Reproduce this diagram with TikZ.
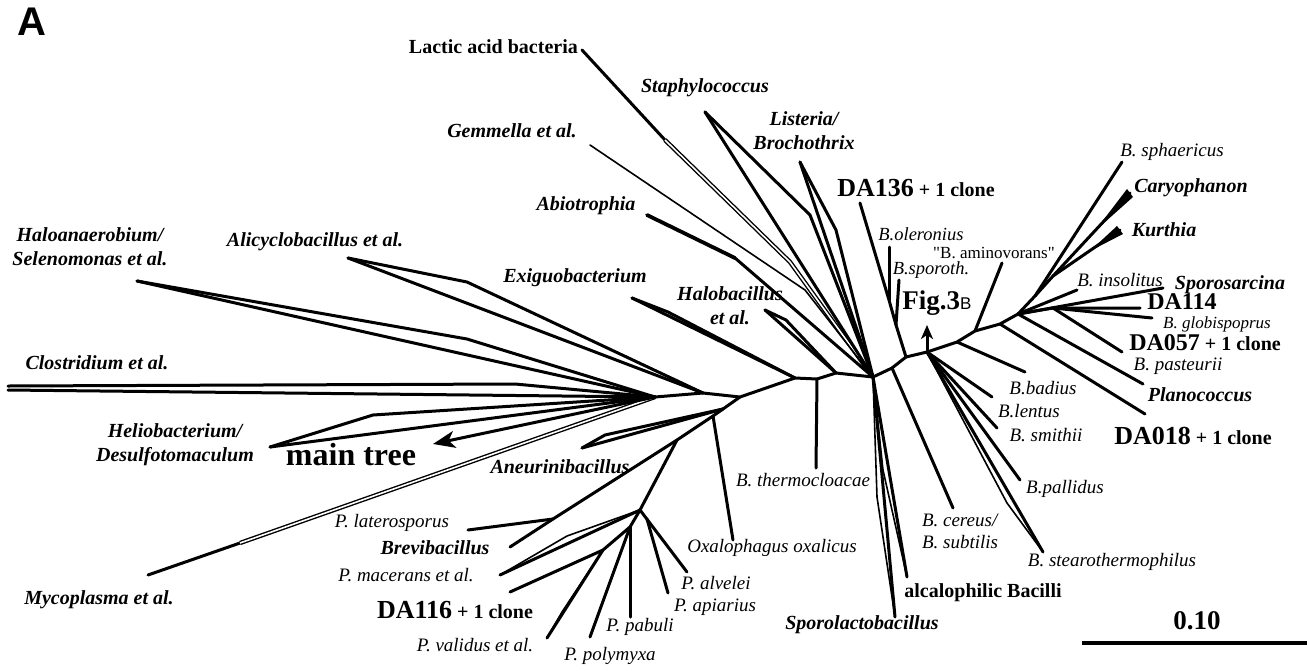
\documentclass[tikz,border=0pt]{standalone}
\usepackage{fontspec}
\setmainfont{Liberation Serif}
\newfontfamily\panelfont{Liberation Sans}
\usetikzlibrary{arrows.meta}

\tikzset{
  branch/.style={line width=3pt, line cap=round, line join=round},
  fine/.style={line width=1.6pt, line cap=round, line join=round},
  twin/.style={double, double distance=1.6pt, line width=1.4pt},
  group/.style={inner sep=0pt, align=center, font=\fontsize{20}{24}\selectfont\bfseries\itshape},
  species/.style={inner sep=0pt, font=\fontsize{19}{22}\selectfont\itshape},
  minor/.style={inner sep=0pt, font=\fontsize{17}{19}\selectfont\itshape},
  isolate/.style={inner sep=0pt, font=\fontsize{20}{24}\selectfont\bfseries},
}
\newcommand{\isoname}[2][26]{{\fontsize{#1}{#1}\selectfont #2}}

\begin{document}
\begin{tikzpicture}[x=1pt, y=-1pt]
  \useasboundingbox (0,0) rectangle (1307,670);

  % Backbone
  \coordinate (HL) at (655,397);
  \coordinate (A1) at (703,393);
  \coordinate (J1) at (740,397);
  \coordinate (J2) at (795,378);
  \coordinate (T)  at (817,379);
  \coordinate (J3) at (836,373);
  \coordinate (J4) at (873,377);
  \coordinate (J5) at (892,368);
  \coordinate (D0) at (906,357);
  \coordinate (F)  at (927,352);
  \coordinate (K)  at (957,342);
  \coordinate (AM) at (975,331);
  \coordinate (P1) at (1000,324);
  \coordinate (P2) at (1018,314);
  \draw[branch] (HL) -- (A1) -- (J1) -- (J2) -- (T) -- (J3) -- (J4) -- (J5)
    -- (D0) -- (F) -- (K) -- (AM) -- (P1) -- (P2);

  % Left fan
  \coordinate (t-hal) at (137,281);  \coordinate (b-hal) at (467,339);
  \coordinate (t-clo) at (8,386);    \coordinate (b-clo) at (515,384);
  \coordinate (t-clo2) at (8,390);
  \coordinate (t-hel) at (270,447);  \coordinate (b-hel) at (373,415);
  \coordinate (t-ali) at (348,258);  \coordinate (b-ali) at (467,282);
  \coordinate (t-exi) at (632,298);  \coordinate (b-exi) at (668,312);
  \coordinate (t-mt)  at (433,444);
  \coordinate (t-myc) at (148,575);  \coordinate (b-myc) at (240,543);
  \draw[branch] (t-hal) -- (b-hal) -- (HL);
  \draw[branch] (t-hal) -- (HL);
  \draw[branch] (t-clo) -- (b-clo) -- (HL);
  \draw[branch] (t-clo2) -- (HL);
  \draw[branch] (t-hel) -- (b-hel) -- (HL);
  \draw[branch] (t-hel) -- (HL);
  \draw[branch] (t-ali) -- (b-ali) -- (A1);
  \draw[branch] (t-ali) -- (A1);
  \draw[branch] (t-exi) -- (b-exi) -- (J2);
  \draw[branch] (t-exi) -- (J2);
  \draw[branch] (t-myc) -- (b-myc);
  \draw[twin] (b-myc) -- (HL);
  \draw[branch, -{Stealth[length=22pt, width=17pt, inset=6pt]}] (HL) -- (t-mt);

  % Lower branch: Aneurinibacillus, Brevibacillus, Paenibacillus
  \coordinate (N1) at (723,409);
  \coordinate (N2) at (713,416);
  \coordinate (N3) at (677,440);
  \coordinate (BL) at (553,519);
  \coordinate (t-brev) at (510,547);
  \coordinate (t-lat)  at (468,530);
  \coordinate (t-ane) at (582,448);  \coordinate (b-ane) at (605,435);
  \coordinate (t-oxa) at (733,540);
  \draw[branch] (J1) -- (N1) -- (N2) -- (N3) -- (BL) -- (t-brev);
  \draw[branch] (BL) -- (t-lat);
  \draw[branch] (t-ane) -- (b-ane) -- (N1);
  \draw[branch] (t-ane) -- (N1);
  \draw[branch] (N2) -- (t-oxa);

  \coordinate (P0) at (640,510);
  \coordinate (PA) at (647,519);
  \coordinate (PB) at (630,527);
  \coordinate (PC) at (603,550);
  \coordinate (t-alv) at (687,572);
  \coordinate (t-api) at (668,593);
  \coordinate (t-mac) at (500,575);  \coordinate (b-mac) at (567,536);
  \coordinate (t-pab) at (630,617);
  \coordinate (t-pol) at (590,637);
  \coordinate (t-116) at (510,592);
  \coordinate (t-val) at (547,638);  \coordinate (b-val) at (562,612);
  \draw[branch] (N3) -- (P0) -- (PB) -- (PC) -- (t-116);
  \draw[branch] (P0) -- (t-alv);
  \draw[branch] (PA) -- (t-api);
  \draw[branch] (P0) -- (t-mac);
  \draw[fine] (P0) -- (b-mac) -- (t-mac);
  \draw[branch] (PB) -- (t-pab);
  \draw[branch] (PB) -- (t-pol);
  \draw[branch] (PC) -- (t-val);
  \draw[fine] (PC) -- (b-val) -- (t-val);

  % Middle: Halobacillus, thermocloacae
  \coordinate (t-hlb) at (765,310);  \coordinate (b-hlb) at (786,320);
  \coordinate (t-thc) at (816,468);
  \draw[branch] (t-hlb) -- (b-hlb) -- (J3);
  \draw[branch] (t-hlb) -- (J3);
  \draw[branch] (T) -- (t-thc);

  % Upper fan
  \coordinate (t-lac) at (582,50);   \coordinate (b-lac) at (665,140);
  \coordinate (c-lac) at (790,262);
  \coordinate (t-sta) at (705,112);  \coordinate (b-sta) at (810,215);
  \coordinate (t-lis) at (800,162);  \coordinate (b-lis) at (836,230);
  \coordinate (t-gem) at (590,145);  \coordinate (b-gem) at (805,290);
  \coordinate (t-abi) at (647,215);  \coordinate (b-abi) at (735,258);
  \draw[branch] (t-lac) -- (b-lac);
  \draw[twin] (b-lac) -- (c-lac) -- (J4);
  \draw[branch] (t-sta) -- (b-sta) -- (J4);
  \draw[branch] (t-sta) -- (J4);
  \draw[branch] (t-lis) -- (b-lis) -- (J4);
  \draw[branch] (t-lis) -- (J4);
  \draw[fine] (t-gem) -- (b-gem) -- (J4);
  \draw[branch, line width=3.8pt] (t-abi) -- (b-abi);
  \draw[branch] (b-abi) -- (J4);

  % Downward from J4/J5
  \coordinate (t-spl) at (895,617);  \coordinate (b-spl) at (877,497);
  \coordinate (t-alc) at (907,577);  \coordinate (b-alc) at (883,470);
  \coordinate (t-cer) at (953,508);
  \draw[fine] (J4) -- (b-spl) -- (t-spl);
  \draw[branch] (J4) -- (t-spl);
  \draw[fine] (J4) -- (b-alc) -- (t-alc);
  \draw[branch] (J4) -- (t-alc);
  \draw[branch] (J5) -- (t-cer);

  % DA136 group
  \coordinate (SP) at (896,325);
  \coordinate (OL) at (889,300);
  \coordinate (t-136) at (860,203);
  \coordinate (t-ole) at (889,247);
  \coordinate (t-spo) at (899,280);
  \draw[branch] (D0) -- (SP) -- (OL) -- (t-136);
  \draw[branch] (OL) -- (t-ole);
  \draw[branch] (SP) -- (t-spo);

  % Right cluster
  \coordinate (t-fig) at (927,325);
  \coordinate (t-len) at (992,397);
  \coordinate (t-smi) at (997,428);
  \coordinate (t-pal) at (1020,480);
  \coordinate (t-ste) at (1043,552);  \coordinate (b-ste) at (1007,503);
  \coordinate (t-bad) at (1025,372);
  \coordinate (t-ami) at (1002,263);
  \coordinate (t-018) at (1145,414);
  \coordinate (t-pla) at (1143,384);
  \coordinate (t-ins) at (1077,290);
  \coordinate (t-spc) at (1163,288);
  \coordinate (S)     at (1053,308);
  \coordinate (t-114) at (1140,308);
  \coordinate (t-glo) at (1152,318);
  \coordinate (t-057) at (1122,352);
  \coordinate (U1) at (1035,296);
  \coordinate (U2) at (1053,276);
  \coordinate (t-sph) at (1122,162);
  \coordinate (t-car) at (1130,193);
  \coordinate (t-kur) at (1120,230);
  \draw[branch, -{Stealth[length=14pt, width=12pt, inset=4pt]}] (F) -- (t-fig);
  \draw[branch] (F) -- (t-len);
  \draw[branch] (F) -- (t-smi);
  \draw[branch] (F) -- (t-pal);
  \draw[branch] (F) -- (t-ste);
  \draw[fine] (F) -- (b-ste) -- (t-ste);
  \draw[branch] (K) -- (t-bad);
  \draw[branch] (AM) -- (t-ami);
  \draw[branch] (P1) -- (t-018);
  \draw[branch] (P2) -- (t-pla);
  \draw[branch] (P2) -- (t-ins);
  \draw[branch] (P2) -- (t-spc);
  \draw[branch] (P2) -- (S) -- (t-114);
  \draw[branch] (S) -- (t-glo);
  \draw[branch] (S) -- (t-057);
  \draw[branch] (P2) -- (U1) -- (U2) -- (t-car);
  \draw[branch] (U1) -- (t-sph);
  \draw[branch] (U2) -- (t-kur);
  \fill (1095,231) -- (1127,189) -- (1133,197) -- cycle;
  \fill (1090,251) -- (1117,226) -- (1123,234) -- cycle;

  % Scale bar
  \coordinate (sb-l) at (1082,643);
  \coordinate (sb-r) at (1307,643);
  \draw[line width=4.5pt] (sb-l) -- (sb-r);
  \node[inner sep=0pt, font=\fontsize{27}{29}\selectfont\bfseries] (scale) at (1197,621) {0.10};

  % Panel letter
  \node[inner sep=0pt, font={\panelfont\bfseries\fontsize{40}{40}\selectfont}] (panel) at (32,22) {A};

  % Labels, left
  \node[group] (hal) at (90,247) {Haloanaerobium/\\Selenomonas et al.};
  \node[group] (ali) at (315,242) {Alicyclobacillus et al.};
  \node[group] (clo) at (97,363) {Clostridium et al.};
  \node[group] (hel) at (175,445) {Heliobacterium/\\Desulfotomaculum};
  \node[inner sep=0pt, font=\fontsize{32}{34}\selectfont\bfseries] (mt) at (351,455) {main tree};
  \node[group] (myc) at (99,600) {Mycoplasma et al.};
  \node[group] (exi) at (575,278) {Exiguobacterium};
  \node[group] (hlb) at (730,306) {Halobacillus\\et al.};
  \node[group] (ane) at (560,467) {Aneurinibacillus};

  % Labels, top
  \node[isolate, anchor=east] (lac) at (578,47) {Lactic acid bacteria};
  \node[group] (sta) at (705,88) {Staphylococcus};
  \node[group] (gem) at (512,131) {Gemmella et al.};
  \node[group] (abi) at (586,206) {Abiotrophia};
  \node[group] (lis) at (804,131) {Listeria/\\Brochothrix};
  \node[isolate] (da136) at (916,188) {\isoname{DA136} + 1 clone};
  \node[minor, font=\fontsize{18.5}{20}\selectfont\itshape] (ole) at (921,234) {B.oleronius};
  \node[minor, font=\fontsize{18.5}{20}\selectfont\itshape] (spo) at (931,270) {B.sporoth.};
  \node[inner sep=0pt, font=\fontsize{17}{19}\selectfont] (ami) at (994,253) {\textquotedbl B. aminovorans\textquotedbl};
  \node[inner sep=0pt] (fig) at (937,303) {\fontsize{27}{29}\selectfont\bfseries Fig.3{\panelfont\mdseries\fontsize{17}{19}\selectfont B}};

  % Labels, right
  \node[species] (sph) at (1172,152) {B. sphaericus};
  \node[group] (car) at (1191,188) {Caryophanon};
  \node[group] (kur) at (1164,230) {Kurthia};
  \node[species] (ins) at (1120,280) {B. insolitus};
  \node[group] (spc) at (1230,285) {Sporosarcina};
  \node[isolate] (da114) at (1182,302) {\isoname[24]{DA114}};
  \node[minor] (glo) at (1217,324) {B. globispoprus};
  \node[isolate] (da057) at (1205,343) {\isoname[24]{DA057} + 1 clone};
  \node[species] (pas) at (1178,366) {B. pasteurii};
  \node[group] (pla) at (1200,395) {Planococcus};
  \node[isolate] (da018) at (1193,436) {\isoname{DA018} + 1 clone};
  \node[species] (bad) at (1043,388) {B.badius};
  \node[species] (len) at (1029,411) {B.lentus};
  \node[species] (smi) at (1046,435) {B. smithii};
  \node[species] (pal) at (1065,489) {B.pallidus};
  \node[species, align=left] (cer) at (960,531) {B. cereus/\\B. subtilis};
  \node[species] (ste) at (1112,562) {B. stearothermophilus};

  % Labels, bottom
  \node[isolate] (alc) at (983,593) {alcalophilic Bacilli};
  \node[group] (spl) at (862,625) {Sporolactobacillus};
  \node[species] (thc) at (803,480) {B. thermocloacae};
  \node[species] (oxa) at (772,548) {Oxalophagus oxalicus};
  \node[species] (lat) at (392,523) {P. laterosporus};
  \node[group] (brev) at (435,548) {Brevibacillus};
  \node[species] (mac) at (406,575) {P. macerans et al.};
  \node[isolate] (da116) at (455,610) {\isoname{DA116} + 1 clone};
  \node[species] (val) at (475,645) {P. validus et al.};
  \node[species] (pol) at (610,656) {P. polymyxa};
  \node[species] (pab) at (640,627) {P. pabuli};
  \node[species] (api) at (715,607) {P. apiarius};
  \node[species] (alv) at (716,583) {P. alvelei};
\end{tikzpicture}
\end{document}
